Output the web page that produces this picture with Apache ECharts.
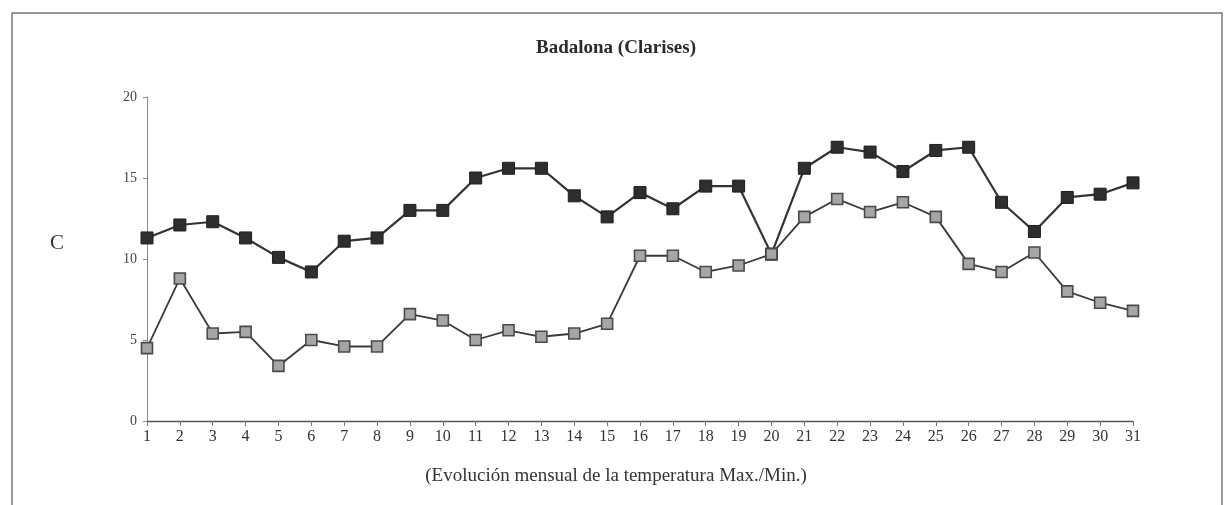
<!DOCTYPE html>
<html>
<head>
<meta charset="utf-8">
<script src="https://cdn.jsdelivr.net/npm/echarts@6/dist/echarts.min.js"></script>
<style>
  html, body { margin: 0; padding: 0; background: #fff; }
  #chart { width: 1232px; height: 505px; }
</style>
</head>
<body>
<div id="chart"></div>
<script>
// dias del mes
const days = [];
for (let d = 1; d <= 31; d++) days.push(String(d));

// temperatura maxima
const maxTemp = [11.3, 12.1, 12.3, 11.3, 10.1, 9.2, 11.1, 11.3, 13.0, 13.0,
  15.0, 15.6, 15.6, 13.9, 12.6, 14.1, 13.1, 14.5, 14.5, 10.3,
  15.6, 16.9, 16.6, 15.4, 16.7, 16.9, 13.5, 11.7, 13.8, 14.0, 14.7];

// temperatura minima
const minTemp = [4.5, 8.8, 5.4, 5.5, 3.4, 5.0, 4.6, 4.6, 6.6, 6.2,
  5.0, 5.6, 5.2, 5.4, 6.0, 10.2, 10.2, 9.2, 9.6, 10.3,
  12.6, 13.7, 12.9, 13.5, 12.6, 9.7, 9.2, 10.4, 8.0, 7.3, 6.8];

const yTicks = [0, 5, 10, 15, 20];

const serif = '"Liberation Serif", "DejaVu Serif", serif';

const chart = echarts.init(document.getElementById('chart'));

const options = {
  backgroundColor: '#fff',
  animation: false,
  title: {
    text: 'Badalona (Clarises)',
    left: 'center',
    top: 34,
    textStyle: { fontFamily: serif, fontSize: 19, fontWeight: 'bold', color: '#2a2a2a' }
  },
  graphic: [
    {
      type: 'rect',
      shape: { x: 12, y: 13, width: 1210, height: 500 },
      style: { fill: 'none', stroke: '#777', lineWidth: 1.5 },
      silent: true
    },
    {
      type: 'text',
      left: 50,
      top: 233,
      style: { text: 'C', fontFamily: serif, fontSize: 21, fill: '#333' }
    },
    {
      type: 'text',
      left: 'center',
      top: 467,
      style: {
        text: '(Evolución mensual de la temperatura Max./Min.)',
        fontFamily: serif, fontSize: 19, fill: '#333'
      }
    }
  ],
  grid: {
    left: 147,
    right: 99,
    top: 97,
    bottom: 84
  },
  xAxis: {
    type: 'category',
    data: days,
    boundaryGap: false,
    axisLine: { lineStyle: { color: '#555', width: 1.3 } },
    axisTick: { show: true, length: 5, inside: false, lineStyle: { color: '#777' } },
    axisLabel: { fontFamily: serif, fontSize: 16, color: '#333', margin: 8, interval: 0 },
    splitLine: { show: false }
  },
  yAxis: {
    type: 'value',
    min: yTicks[0],
    max: yTicks[yTicks.length - 1],
    interval: 5,
    axisLine: { show: true, lineStyle: { color: '#888', width: 1 } },
    axisTick: { show: true, length: 4, lineStyle: { color: '#888' } },
    axisLabel: { fontFamily: serif, fontSize: 14, color: '#444', margin: 10 },
    splitLine: { show: false }
  },
  series: [
    {
      name: 'Max.',
      type: 'line',
      data: maxTemp,
      symbol: 'rect',
      symbolSize: 12,
      lineStyle: { color: '#333', width: 2.2 },
      itemStyle: { color: '#2e2e2e', borderColor: '#1e1e1e', borderWidth: 1 }
    },
    {
      name: 'Min.',
      type: 'line',
      data: minTemp,
      symbol: 'rect',
      symbolSize: 11,
      lineStyle: { color: '#3a3a3a', width: 1.8 },
      itemStyle: { color: '#a6a6a6', borderColor: '#4a4a4a', borderWidth: 1.6 }
    }
  ]
};

chart.setOption(options);
</script>
</body>
</html>
